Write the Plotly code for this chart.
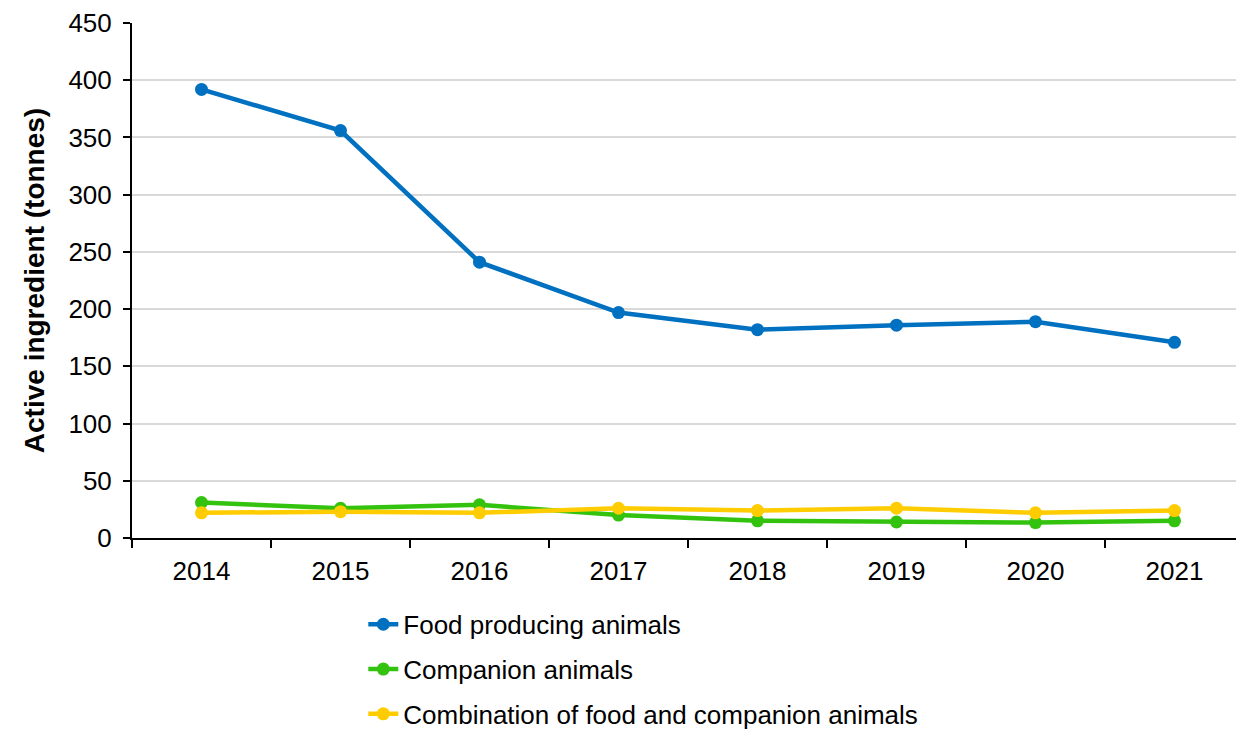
import plotly.graph_objects as go

years = ["2014", "2015", "2016", "2017", "2018", "2019", "2020", "2021"]
food_producing = [392, 356, 241, 197, 182, 186, 189, 171]
companion = [31, 26, 29, 20, 15, 14, 13.5, 15]
combination = [22, 23, 22, 26, 24, 26, 22, 24]
y_ticks = [0, 50, 100, 150, 200, 250, 300, 350, 400, 450]

series = [
    ("Food producing animals", food_producing, "#0070C0", "g1"),
    ("Companion animals", companion, "#33C30F", "g2"),
    ("Combination of food and companion animals", combination, "#FFCC00", "g3"),
]

fig = go.Figure()
for name, vals, color, grp in series:
    fig.add_trace(go.Scatter(
        x=years, y=vals, name=name, mode="lines+markers",
        line=dict(color=color, width=4.5),
        marker=dict(color=color, size=13),
        legendgroup=grp,
    ))

fig.update_layout(
    width=1236, height=721,
    margin=dict(l=124, r=0, t=15, b=191, autoexpand=False),
    plot_bgcolor="white", paper_bgcolor="white",
    font=dict(family="Liberation Sans, Arial, sans-serif", size=26, color="#000000"),
    showlegend=True,
    legend=dict(
        orientation="v", x=0.208, y=-0.122, xanchor="left", yanchor="top",
        font=dict(size=26), tracegroupgap=8, traceorder="grouped",
        bgcolor="rgba(0,0,0,0)",
    ),
    xaxis=dict(
        type="category", range=[-0.5, 7.5],
        showline=True, linecolor="black", linewidth=2,
        ticks="outside", tickson="boundaries", ticklen=8, tickwidth=2, tickcolor="black",
        showgrid=False, tickfont=dict(size=26), ticklabelstandoff=9,
    ),
    yaxis=dict(
        range=[0, 450], tickvals=y_ticks,
        showline=True, linecolor="black", linewidth=2,
        ticks="outside", ticklen=7, tickwidth=2, tickcolor="black",
        showgrid=True, gridcolor="#D9D9D9", gridwidth=2,
        zeroline=False, tickfont=dict(size=26), ticklabelstandoff=6,
        title=dict(text="<b>Active ingredient (tonnes)</b>", font=dict(size=28), standoff=16),
    ),
)

fig.write_html("out.html")
